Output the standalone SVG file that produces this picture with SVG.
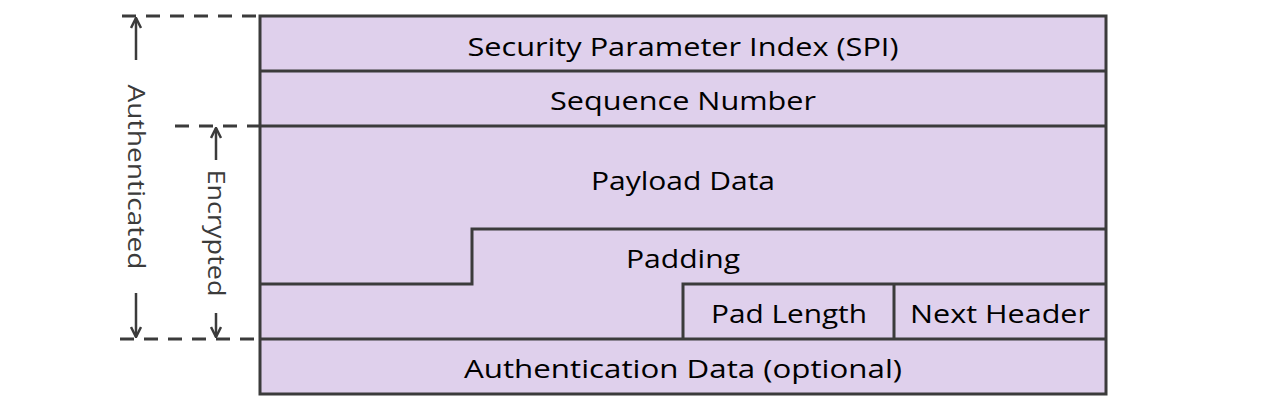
<svg xmlns="http://www.w3.org/2000/svg" width="1262" height="408" viewBox="0 0 1262 408">
<defs>
<style>
.box{fill:#dfd0ec;stroke:#3b3b3b;stroke-width:3}
.ln{fill:none;stroke:#3b3b3b;stroke-width:3}
.dash{fill:none;stroke:#3b3b3b;stroke-width:3;stroke-dasharray:14 10}
.arr{fill:none;stroke:#3b3b3b;stroke-width:2.5}
.t{font-family:"Open Sans","Liberation Sans",sans-serif;font-size:26px;fill:#000;text-anchor:middle}
.s{font-family:"Open Sans","Liberation Sans",sans-serif;font-size:24px;fill:#3b3b3b;text-anchor:middle}
</style>
<marker id="ah" viewBox="0 0 12 12" refX="11" refY="6" markerWidth="12" markerHeight="12" markerUnits="userSpaceOnUse" orient="auto">
<path d="M1,1 L11,6 L1,11" fill="none" stroke="#3b3b3b" stroke-width="2.5"/>
</marker>
</defs>
<g id="packet">
<rect class="box" x="260" y="16" width="846" height="378"/>
</g>
<g id="connectors">
<path class="ln" d="M260,71 H1106 M260,126 H1106 M260,284 H472 V229 H1106 M683,339 V284 H1106 M894,284 V339 M260,339 H1106"/>
<path class="dash" d="M122,16 H260 M175,126 H260 M120,339 H260"/>
<path class="arr" d="M136,60 V18" marker-end="url(#ah)"/>
<path class="arr" d="M136,293 V337" marker-end="url(#ah)"/>
<path class="arr" d="M216,160 V128" marker-end="url(#ah)"/>
<path class="arr" d="M216,313 V337" marker-end="url(#ah)"/>
</g>
<g id="spi"><text class="t" x="683" y="56" textLength="431" lengthAdjust="spacingAndGlyphs">Security Parameter Index (SPI)</text></g>
<g id="seq"><text class="t" x="683" y="110" textLength="266" lengthAdjust="spacingAndGlyphs">Sequence Number</text></g>
<g id="payload"><text class="t" x="683" y="190" textLength="184" lengthAdjust="spacingAndGlyphs">Payload Data</text></g>
<g id="padding"><text class="t" x="683" y="268" textLength="114" lengthAdjust="spacingAndGlyphs">Padding</text></g>
<g id="padlen"><text class="t" x="789" y="323" textLength="156" lengthAdjust="spacingAndGlyphs">Pad Length</text></g>
<g id="nexthdr"><text class="t" x="1000" y="323" textLength="180" lengthAdjust="spacingAndGlyphs">Next Header</text></g>
<g id="authdata"><text class="t" x="683" y="378" textLength="438" lengthAdjust="spacingAndGlyphs">Authentication Data (optional)</text></g>
<g id="authenticated"><text class="s" transform="translate(128,177) rotate(90)" textLength="185" lengthAdjust="spacingAndGlyphs">Authenticated</text></g>
<g id="encrypted"><text class="s" transform="translate(208,233) rotate(90)" textLength="127" lengthAdjust="spacingAndGlyphs">Encrypted</text></g>
</svg>
